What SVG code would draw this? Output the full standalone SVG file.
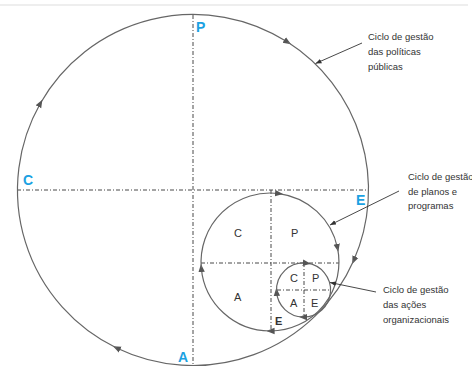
<svg xmlns="http://www.w3.org/2000/svg" width="472" height="367" viewBox="0 0 472 367">
<defs>
<marker id="ah" viewBox="0 0 10 10" refX="5" refY="5" markerWidth="8" markerHeight="8" orient="auto" markerUnits="userSpaceOnUse"><path d="M0,1 L10,5 L0,9 z" fill="#555"/></marker>
<marker id="tip" viewBox="0 0 10 10" refX="10" refY="5" markerWidth="6" markerHeight="6" orient="auto" markerUnits="userSpaceOnUse"><path d="M0,1 L10,5 L0,9 z" fill="#333"/></marker>
<style>
.arc{fill:none;stroke:#666;stroke-width:1.2;marker-end:url(#ah)}
.dash{stroke:#333;stroke-width:0.9;stroke-dasharray:4 2 1 2;fill:none}
.ann{stroke:#333;stroke-width:0.9;fill:none;marker-end:url(#tip)}
.big{font-family:"Liberation Sans",Arial,sans-serif;font-weight:bold;font-size:14px;fill:#1ba1e2}
.lbl{font-family:"Liberation Sans",Arial,sans-serif;font-size:11px;fill:#333}
.note{font-family:"Liberation Sans",Arial,sans-serif;font-size:9.5px;fill:#333}
</style>
</defs>
<rect width="472" height="367" fill="#fff"/>
<line x1="0" y1="5" x2="468" y2="5" stroke="#ddd" stroke-width="1"/>
<g id="ciclo-politicas">
<line class="dash" x1="17" y1="190" x2="369" y2="190"/>
<line class="dash" x1="193" y1="15" x2="193" y2="365"/>
<text class="big" x="196" y="32">P</text>
<text class="big" x="23" y="185">C</text>
<text class="big" x="356" y="205">E</text>
<text class="big" x="178" y="362">A</text>
</g>
<g id="ciclo-planos">
<line class="dash" x1="201" y1="263" x2="339" y2="263"/>
<line class="dash" x1="271" y1="190" x2="271" y2="331"/>
<text class="lbl" x="234" y="237">C</text>
<text class="lbl" x="291" y="237">P</text>
<text class="lbl" x="234" y="301">A</text>
<text class="lbl" x="275" y="325" font-weight="bold" fill="#222">E</text>
</g>
<g id="ciclo-acoes">
<line class="dash" x1="277" y1="290" x2="331" y2="290"/>
<line class="dash" x1="304" y1="263" x2="304" y2="317"/>
<text class="lbl" x="290" y="282" fill="#1ba1e2">C</text>
<text class="lbl" x="312" y="282">P</text>
<text class="lbl" x="290" y="307">A</text>
<text class="lbl" x="311" y="307">E</text>
</g>
<g id="connectors">
<path class="arc" d="M40.4,103.3 A175.5,175.5 0 0 1 287.6,42.1"/>
<path class="arc" d="M287.6,42.1 A175.5,175.5 0 0 1 353.8,260.3"/>
<path class="arc" d="M353.8,260.3 A175.5,175.5 0 0 1 116.6,348"/>
<path class="arc" d="M116.6,348 A175.5,175.5 0 0 1 40.4,103.3"/>
<path class="arc" d="M279,193.6 A69,69 0 0 1 337.5,247.9"/>
<path class="arc" d="M337.5,247.9 A69,69 0 0 1 270.6,331"/>
<path class="arc" d="M270.6,331 A69,69 0 0 1 201.3,268"/>
<path class="arc" d="M201.3,268 A69,69 0 0 1 279,193.6"/>
<path class="arc" d="M306.8,263.2 A27,27 0 0 1 303,317"/>
<path class="arc" d="M303,317 A27,27 0 0 1 276.6,291.9"/>
<path class="arc" d="M276.6,291.9 A27,27 0 0 1 306.8,263.2"/>
<path class="ann" d="M362,43 L315.5,63.5"/>
<path class="ann" d="M399,191 L330,225"/>
<path class="ann" d="M376,292 L330,282.5"/>
</g>
<g id="notas">
<text class="note" x="368" y="40">Ciclo de gestão</text>
<text class="note" x="368" y="55">das políticas</text>
<text class="note" x="368" y="70">públicas</text>
<text class="note" x="408" y="180">Ciclo de gestão</text>
<text class="note" x="408" y="195">de planos e</text>
<text class="note" x="408" y="209">programas</text>
<text class="note" x="383" y="293">Ciclo de gestão</text>
<text class="note" x="383" y="308">das ações</text>
<text class="note" x="383" y="323">organizacionais</text>
</g>
</svg>
